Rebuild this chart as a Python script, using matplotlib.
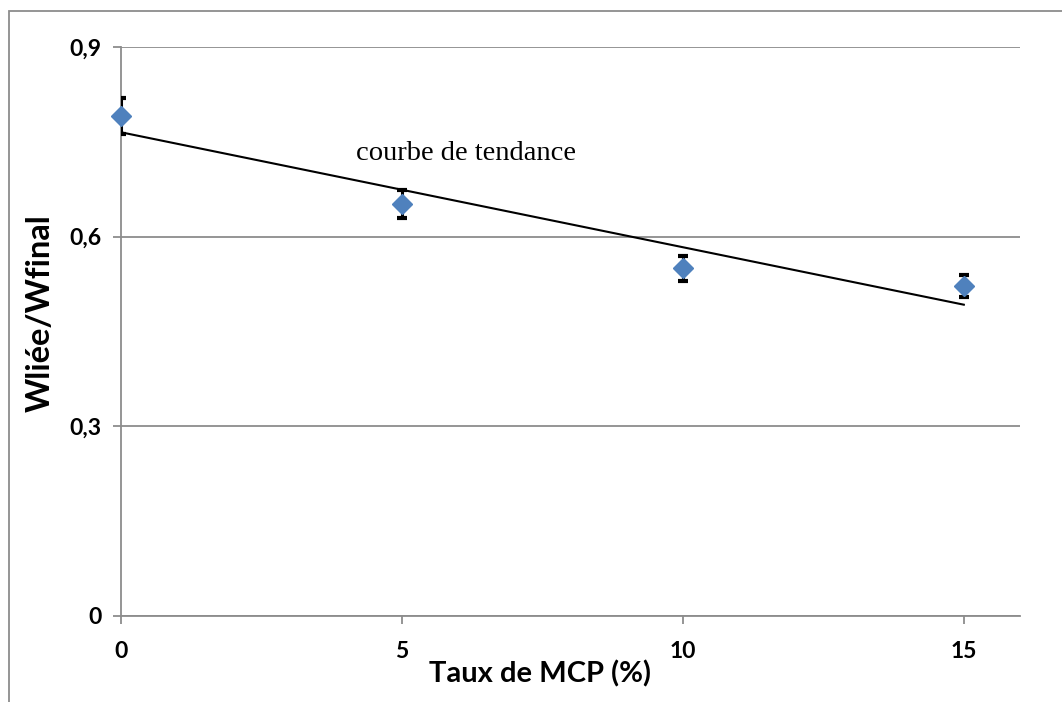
import numpy as np
import matplotlib as mpl
mpl.use('Agg')
import matplotlib.pyplot as plt
from matplotlib.patches import Rectangle

# data
taux_mcp = np.array([0, 5, 10, 15])
w_ratio = np.array([0.791, 0.652, 0.550, 0.522])
w_err = np.array([0.028, 0.022, 0.020, 0.017])
y_ticks = [0, 0.3, 0.6, 0.9]
y_tick_labels = ['0', '0,3', '0,6', '0,9']
x_ticks = [0, 5, 10, 15]

GRAY = '#8c8c8c'
BLUE = '#4f81bd'
FONT = 'Lato'

fig = plt.figure(figsize=(10.62, 7.02), dpi=100)
fig.patch.set_facecolor('white')

# outer chart frame (cropped on right and bottom)
frame = Rectangle((9 / 1062, -0.2), 1.5, 1.2 - 11 / 702,
                  transform=fig.transFigure, fill=False,
                  edgecolor=GRAY, linewidth=1.3)
fig.patches.append(frame)

ax = fig.add_axes([121 / 1062, 1 - 616 / 702, (1020 - 121) / 1062, (616 - 47) / 702])

# trend line (least squares)
slope, intercept = np.polyfit(taux_mcp, w_ratio, 1)
ax.plot(taux_mcp[[0, -1]], slope * taux_mcp[[0, -1]] + intercept,
        color='black', linewidth=1.5, zorder=3)

ax.errorbar(taux_mcp, w_ratio, yerr=w_err, fmt='none', ecolor='black',
            elinewidth=2.2, capsize=3.5, capthick=3, zorder=4)
ax.plot(taux_mcp, w_ratio, linestyle='none', marker='D', markersize=10.5,
        color=BLUE, markeredgecolor=BLUE, zorder=5, clip_on=False)

ax.text(4.18, 0.732, 'courbe de tendance', family='Liberation Serif',
        fontsize=20.5, va='center', ha='left')

ax.set_xlim(0, 16)
ax.set_ylim(0, 0.9)
ax.set_xticks(x_ticks)
ax.set_xticklabels([str(v) for v in x_ticks])
ax.set_yticks(y_ticks)
ax.set_yticklabels(y_tick_labels)

ax.yaxis.grid(True, color=GRAY, linewidth=1.3)
ax.set_axisbelow(True)
for side in ['top', 'right']:
    ax.spines[side].set_visible(False)
for side in ['left', 'bottom']:
    ax.spines[side].set_color(GRAY)
    ax.spines[side].set_linewidth(1.3)

ax.tick_params(axis='both', direction='out', length=6, width=1.3, color=GRAY,
               labelsize=16.5)
ax.tick_params(axis='y', pad=8)
ax.tick_params(axis='x', pad=12)
for lbl in ax.get_xticklabels() + ax.get_yticklabels():
    lbl.set_fontweight('bold')
    lbl.set_family(FONT)

ax.set_xlabel('Taux de MCP (%)', fontsize=21, fontweight='bold', family=FONT,
              va='center')
ax.set_ylabel('Wliée/Wfinal', fontsize=23.5, fontweight='bold', family=FONT,
              va='center')
ax.xaxis.set_label_coords(0.466, -0.102)
ax.yaxis.set_label_coords(-0.090, 0.532)

plt.savefig('out.png', dpi=100)
